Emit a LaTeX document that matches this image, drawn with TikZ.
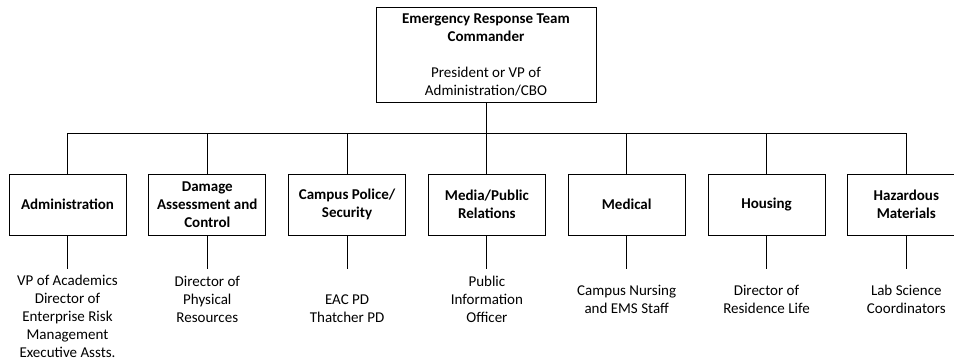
\documentclass[tikz,border=0pt]{standalone}
\usepackage{fontspec}
\setmainfont{Carlito}
\usetikzlibrary{calc}
\begin{document}
\begin{tikzpicture}[x=1pt,y=-1pt,
  every node/.style={font=\fontsize{15}{18}\selectfont},
  unit/.style={draw, line width=1pt, minimum width=117pt, minimum height=61pt,
    inner sep=0pt, align=center, font=\fontsize{15}{18}\selectfont\bfseries},
  topbox/.style={draw, line width=1pt, minimum width=220pt, minimum height=95pt,
    inner sep=0pt, align=center},
  link/.style={line width=1pt},
  staff/.style={align=center, inner sep=0pt}
]
\clip (0,0) rectangle (954,360);
\useasboundingbox (0,0) rectangle (954,360);

\node[topbox] (top) at (486,54.5) {\textbf{Emergency Response Team}\\\textbf{Commander}\\[18pt]President or VP of\\Administration/CBO};

\node[unit] (u1) at (67.5,204.5) {Administration};
\node[unit] (u2) at (207.3,204.5) {Damage\\Assessment and\\Control};
\node[unit] (u3) at (347.1,204.5) {Campus Police/\\Security};
\node[unit] (u4) at (486.9,204.5) {Media/Public\\Relations};
\node[unit] (u5) at (626.7,204.5) {Medical};
\node[unit] (u6) at (766.5,204.5) {Housing};
\node[unit] (u7) at (906.3,204.5) {Hazardous\\Materials};

\coordinate (bus) at (486,133);
\draw[link] (top.south) -- (top.south |- bus);
\draw[link] (u1.north |- bus) -- (u7.north |- bus);
\foreach \i in {1,...,7}{
  \draw[link] (u\i.north |- bus) -- (u\i.north);
  \coordinate (e\i) at ($(u\i.south)+(0,33)$);
  \draw[link] (u\i.south) -- (e\i);
}

\node[staff] (s1) at (67.5,316.5) {VP of Academics\\Director of\\Enterprise Risk\\Management\\Executive Assts.};
\node[staff] (s2) at (207.3,299.5) {Director of\\Physical\\Resources};
\node[staff] (s3) at (347.1,308.5) {EAC PD\\Thatcher PD};
\node[staff] (s4) at (486.9,299.5) {Public\\Information\\Officer};
\node[staff] (s5) at (626.7,299.5) {Campus Nursing\\and EMS Staff};
\node[staff] (s6) at (766.5,299.5) {Director of\\Residence Life};
\node[staff] (s7) at (906.3,299.5) {Lab Science\\Coordinators};
\end{tikzpicture}
\end{document}
